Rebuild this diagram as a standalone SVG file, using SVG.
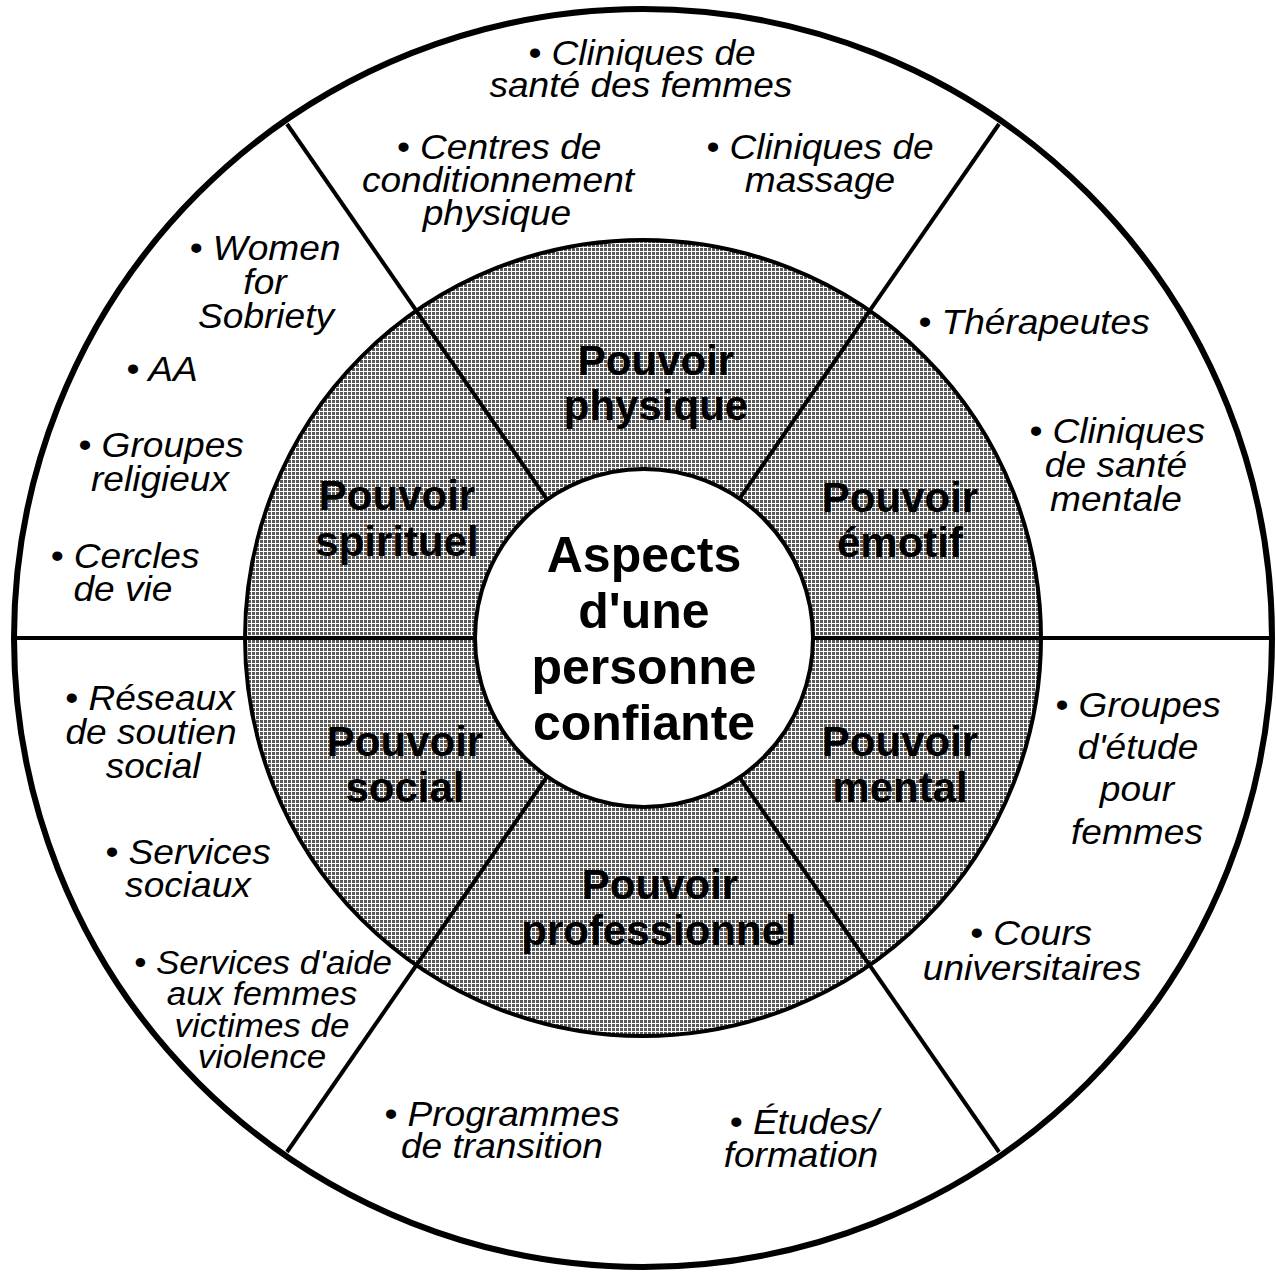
<svg xmlns="http://www.w3.org/2000/svg" width="1276" height="1272" viewBox="0 0 1276 1272">
<defs>
<pattern id="halftone" patternUnits="userSpaceOnUse" x="0" y="0" width="4" height="4">
<rect width="4" height="4" fill="#5a5a5a"/>
<rect x="0" y="3" width="4" height="1" fill="#ffffff"/>
<rect x="3" y="0" width="1" height="4" fill="#ffffff"/>
</pattern>
<style>
.bold{font-family:"Liberation Sans",Arial,sans-serif;font-weight:bold;font-size:42px;text-anchor:middle;fill:#000}
.center{font-family:"Liberation Sans",Arial,sans-serif;font-weight:bold;font-size:50px;text-anchor:middle;fill:#000}
.it{font-family:"Liberation Sans",Arial,sans-serif;font-style:italic;font-size:35px;text-anchor:middle;fill:#000}
.small{font-size:33px}
.line{stroke:#000;stroke-width:4;fill:none}
</style>
</defs>
<rect width="1276" height="1272" fill="#ffffff"/>
<g id="wheel">
<circle cx="643" cy="638" r="629" fill="#ffffff"/>
<circle cx="643" cy="638" r="398" fill="url(#halftone)" stroke="#000" stroke-width="4"/>
</g>
<g id="connectors">
<line class="line" x1="12" y1="638" x2="1274" y2="638"/>
<line class="line" x1="287" y1="124" x2="999" y2="1152"/>
<line class="line" x1="999" y1="124" x2="287" y2="1152"/>
</g>
<g id="outer-ring">
<circle cx="643" cy="638" r="629" fill="none" stroke="#000" stroke-width="6"/>
</g>
<g id="node-center">
<circle cx="644" cy="638" r="169" fill="#ffffff" stroke="#000" stroke-width="4"/>
<text class="center"><tspan x="644" y="572">Aspects</tspan><tspan x="644" y="628">d'une</tspan><tspan x="644" y="684">personne</tspan><tspan x="644" y="740">confiante</tspan></text>
</g>
<g id="node-physique">
<text class="bold"><tspan x="656" y="375">Pouvoir</tspan><tspan x="656" y="420">physique</tspan></text>
</g>
<g id="node-emotif">
<text class="bold"><tspan x="900" y="512">Pouvoir</tspan><tspan x="900" y="557">émotif</tspan></text>
</g>
<g id="node-mental">
<text class="bold"><tspan x="900" y="756">Pouvoir</tspan><tspan x="900" y="802">mental</tspan></text>
</g>
<g id="node-professionnel">
<text class="bold"><tspan x="660" y="899">Pouvoir</tspan><tspan x="659" y="945">professionnel</tspan></text>
</g>
<g id="node-social">
<text class="bold"><tspan x="405" y="756">Pouvoir</tspan><tspan x="405" y="802">social</tspan></text>
</g>
<g id="node-spirituel">
<text class="bold"><tspan x="397" y="510">Pouvoir</tspan><tspan x="397" y="556">spirituel</tspan></text>
</g>
<g id="resources-physique">
<text class="it" transform="matrix(1.06 0 0 1 -38.52 0)"><tspan x="642" y="65">• Cliniques de</tspan><tspan x="641" y="97">santé des femmes</tspan></text>
<text class="it" transform="matrix(1.06 0 0 1 -29.88 0)"><tspan x="499" y="159">• Centres de</tspan><tspan x="498" y="192">conditionnement</tspan><tspan x="497" y="225">physique</tspan></text>
<text class="it" transform="matrix(1.06 0 0 1 -49.2 0)"><tspan x="820" y="159">• Cliniques de</tspan><tspan x="820" y="192">massage</tspan></text>
</g>
<g id="resources-emotif">
<text class="it" transform="matrix(1.06 0 0 1 -62.04 0)" x="1034" y="334">• Thérapeutes</text>
<text class="it" transform="matrix(1.06 0 0 1 -66.96 0)"><tspan x="1117" y="443">• Cliniques</tspan><tspan x="1116" y="477">de santé</tspan><tspan x="1116" y="511">mentale</tspan></text>
</g>
<g id="resources-mental">
<text class="it" transform="matrix(1.06 0 0 1 -68.22 0)"><tspan x="1138" y="717">• Groupes</tspan><tspan x="1138" y="759">d'étude</tspan><tspan x="1137" y="801">pour</tspan><tspan x="1137" y="844">femmes</tspan></text>
<text class="it" transform="matrix(1.06 0 0 1 -61.86 0)"><tspan x="1031" y="945">• Cours</tspan><tspan x="1032" y="980">universitaires</tspan></text>
</g>
<g id="resources-professionnel">
<text class="it" transform="matrix(1.06 0 0 1 -30.12 0)"><tspan x="502" y="1126">• Programmes</tspan><tspan x="502" y="1158">de transition</tspan></text>
<text class="it" transform="matrix(1.06 0 0 1 -48.12 0)"><tspan x="804" y="1134">• Études/</tspan><tspan x="801" y="1167">formation</tspan></text>
</g>
<g id="resources-social">
<text class="it" transform="matrix(1.06 0 0 1 -9.06 0)"><tspan x="150" y="710">• Réseaux</tspan><tspan x="151" y="744">de soutien</tspan><tspan x="153" y="778">social</tspan></text>
<text class="it" transform="matrix(1.06 0 0 1 -11.28 0)"><tspan x="188" y="864">• Services</tspan><tspan x="188" y="897">sociaux</tspan></text>
<text class="it small" transform="matrix(1.06 0 0 1 -15.72 0)"><tspan x="263" y="974">• Services d'aide</tspan><tspan x="262" y="1005">aux femmes</tspan><tspan x="262" y="1037">victimes de</tspan><tspan x="262" y="1068">violence</tspan></text>
</g>
<g id="resources-spirituel">
<text class="it" transform="matrix(1.06 0 0 1 -15.9 0)"><tspan x="265" y="260">• Women</tspan><tspan x="265" y="294">for</tspan><tspan x="266" y="328">Sobriety</tspan></text>
<text class="it" transform="matrix(1.06 0 0 1 -9.72 0)" x="162" y="381">• AA</text>
<text class="it" transform="matrix(1.06 0 0 1 -9.6 0)"><tspan x="161" y="457">• Groupes</tspan><tspan x="160" y="491">religieux</tspan></text>
<text class="it" transform="matrix(1.06 0 0 1 -7.44 0)"><tspan x="125" y="568">• Cercles</tspan><tspan x="123" y="601">de vie</tspan></text>
</g>
</svg>
